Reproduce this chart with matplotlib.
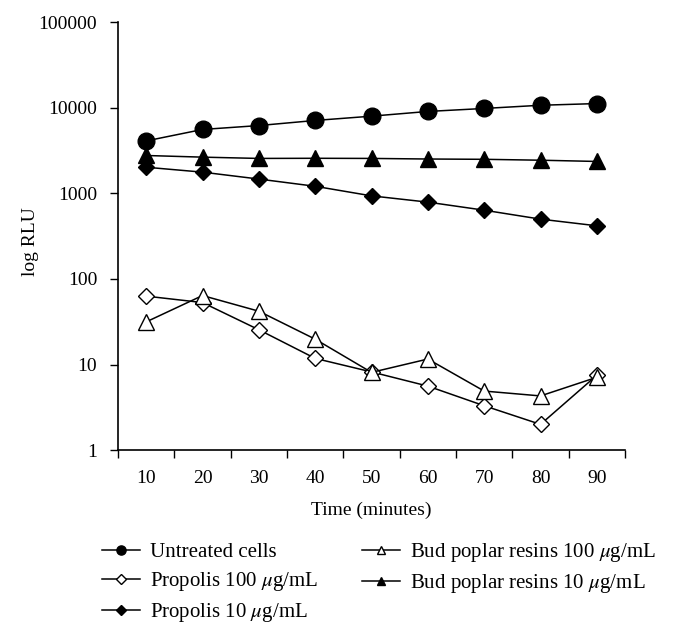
import numpy as np
import matplotlib.pyplot as plt

plt.rcParams['font.family'] = ['Liberation Serif', 'DejaVu Serif']
plt.rcParams['mathtext.fontset'] = 'stix'
plt.rcParams['font.size'] = 14

# data
times = [10, 20, 30, 40, 50, 60, 70, 80, 90]
untreated = [4100, 5580, 6200, 7110, 7980, 9060, 9820, 10700, 11200]
propolis_100 = [63, 53, 25.5, 11.8, 8.2, 5.6, 3.3, 2.0, 7.5]
propolis_10 = [2020, 1770, 1470, 1210, 935, 790, 636, 500, 418]
bud_100 = [31.5, 64, 42, 19.8, 8.1, 11.6, 4.9, 4.3, 7.1]
bud_10 = [2770, 2650, 2560, 2570, 2560, 2520, 2500, 2440, 2360]

fig = plt.figure(figsize=(6.83, 6.34), dpi=100)
ax = fig.add_axes([0.1728, 0.290, 0.7423, 0.675])

x = np.arange(len(times))
lw = 1.1
ax.plot(x, untreated, color='black', lw=lw, marker='o', ms=12, label='Untreated cells')
ax.plot(x, propolis_100, color='black', lw=lw, marker='D', ms=8.5, mfc='white',
        mew=1.0, label=r'Propolis 100 $\mu$g/mL')
ax.plot(x, propolis_10, color='black', lw=lw, marker='D', ms=8.5, label=r'Propolis 10 $\mu$g/mL')
ax.plot(x, bud_100, color='black', lw=lw, marker='^', ms=11.5, mfc='white',
        mew=1.0, label=r'Bud poplar resins 100 $\mu$g/mL')
ax.plot(x, bud_10, color='black', lw=lw, marker='^', ms=11.5, label=r'Bud poplar resins 10 $\mu$g/mL')

ax.set_yscale('log')
ax.set_ylim(1, 100000)
ax.set_yticks([1, 10, 100, 1000, 10000, 100000])
ax.set_yticklabels(['1', '10', '100', '1000', '10000', '100000'])
ax.yaxis.set_minor_locator(plt.NullLocator())

# category axis: ticks between categories, labels centred
ax.set_xlim(-0.5, len(times) - 0.5)
ax.set_xticks(np.arange(len(times) + 1) - 0.5)
ax.set_xticklabels([])
ax.set_xticks(x, minor=True)
ax.set_xticklabels([str(t) for t in times], minor=True)
ax.tick_params(axis='x', which='minor', length=0, pad=14)
ax.tick_params(axis='x', which='major', length=6, width=1)
ax.tick_params(axis='y', length=6, width=1, pad=9)

for s in ['top', 'right']:
    ax.spines[s].set_visible(False)
for s in ['left', 'bottom']:
    ax.spines[s].set_linewidth(1.2)

ax.set_xlabel('Time (minutes)', labelpad=11)
ax.set_ylabel('log RLU')
ax.yaxis.set_label_coords(-0.155, 0.488)

handles, labels = ax.get_legend_handles_labels()
leg = fig.legend(handles, labels, ncol=2, loc='upper left', bbox_to_anchor=(0.149, 0.146),
                 frameon=False, fontsize=15, markerscale=0.55, handlelength=1.83,
                 handletextpad=0.48, columnspacing=2.1, labelspacing=0.38,
                 borderaxespad=0, borderpad=0)

fig.savefig('out.png', dpi=100)
